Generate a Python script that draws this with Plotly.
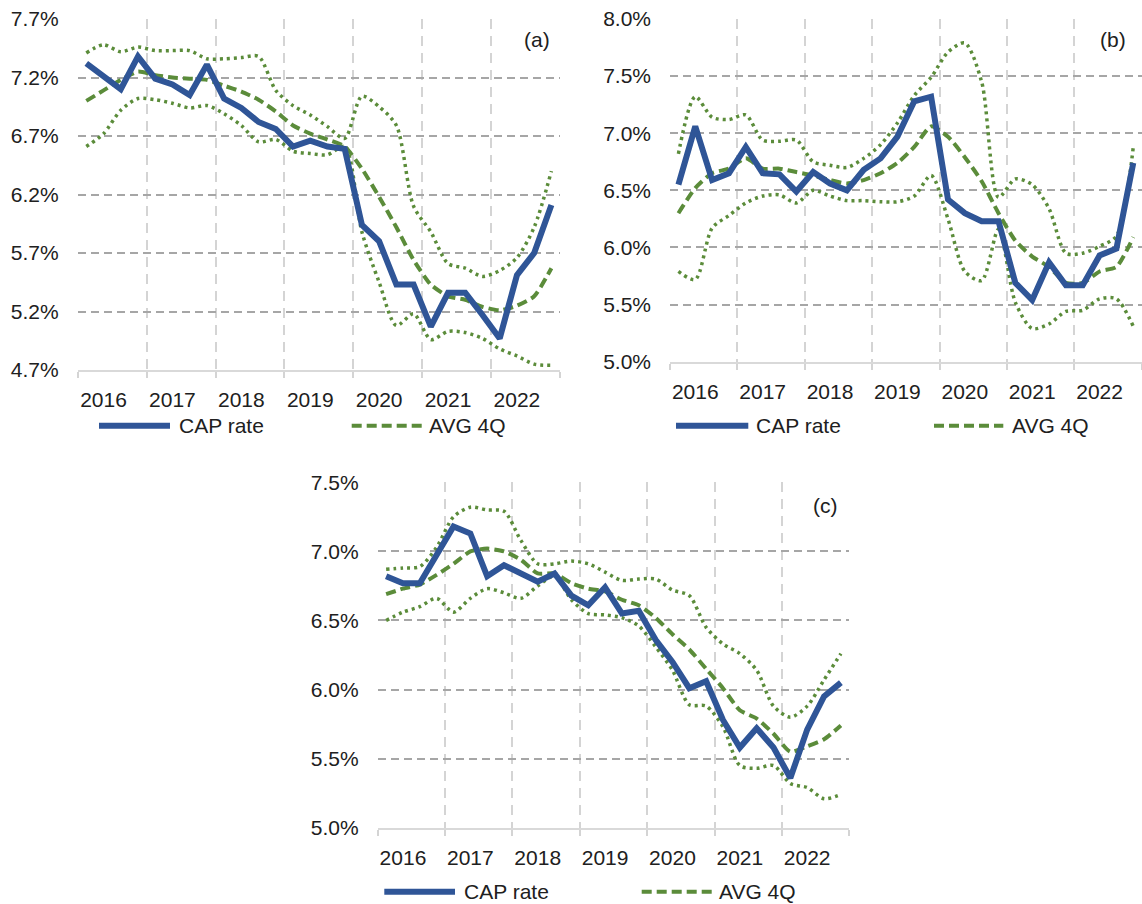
import plotly.graph_objects as go

W, H = 1142, 904

# Quarterly observations 2016Q1 .. 2022Q4 (28 quarters)
quarters = list(range(28))
years = ["2016", "2017", "2018", "2019", "2020", "2021", "2022"]

# Panel (a)
cap_a = [7.32, 7.21, 7.10, 7.38, 7.19, 7.14, 7.05, 7.31, 7.02, 6.94, 6.82, 6.76, 6.61, 6.66,
         6.61, 6.59, 5.94, 5.80, 5.43, 5.43, 5.07, 5.36, 5.36, 5.17, 4.97, 5.51, 5.70, 6.11]
avg_a = [7.00, 7.09, 7.18, 7.25, 7.22, 7.20, 7.19, 7.18, 7.13, 7.08, 7.01, 6.91, 6.79, 6.72,
         6.67, 6.61, 6.42, 6.18, 5.92, 5.64, 5.43, 5.33, 5.30, 5.24, 5.21, 5.25, 5.33, 5.57]
upper_a = [7.41, 7.48, 7.42, 7.46, 7.43, 7.43, 7.43, 7.36, 7.36, 7.37, 7.38, 7.09, 6.96, 6.88,
           6.78, 6.68, 7.04, 6.95, 6.79, 6.10, 5.88, 5.61, 5.57, 5.50, 5.55, 5.66, 5.92, 6.40]
lower_a = [6.61, 6.72, 6.92, 7.02, 7.01, 6.98, 6.94, 6.96, 6.89, 6.79, 6.65, 6.67, 6.57, 6.55,
           6.54, 6.61, 5.88, 5.45, 5.08, 5.18, 4.96, 5.03, 5.02, 4.97, 4.88, 4.82, 4.75, 4.74]

# Panel (b)
cap_b = [6.55, 7.06, 6.59, 6.65, 6.88, 6.65, 6.64, 6.49, 6.66, 6.56, 6.50, 6.68, 6.78, 6.97,
         7.28, 7.32, 6.42, 6.30, 6.23, 6.23, 5.69, 5.54, 5.87, 5.67, 5.67, 5.93, 5.99, 6.74]
avg_b = [6.30, 6.52, 6.65, 6.69, 6.78, 6.69, 6.69, 6.66, 6.63, 6.59, 6.56, 6.59, 6.65, 6.74,
         6.88, 7.06, 6.97, 6.79, 6.58, 6.30, 6.06, 5.92, 5.83, 5.69, 5.69, 5.79, 5.83, 6.09]
upper_b = [6.82, 7.32, 7.14, 7.12, 7.16, 6.94, 6.93, 6.94, 6.75, 6.72, 6.70, 6.78, 6.90, 7.09,
           7.33, 7.49, 7.71, 7.79, 7.45, 6.44, 6.60, 6.55, 6.34, 5.95, 5.95, 6.01, 6.10, 6.88]
lower_b = [5.79, 5.72, 6.17, 6.28, 6.39, 6.45, 6.46, 6.39, 6.50, 6.45, 6.41, 6.41, 6.40, 6.40,
           6.45, 6.63, 6.25, 5.79, 5.71, 6.16, 5.52, 5.29, 5.33, 5.44, 5.45, 5.55, 5.55, 5.31]

# Panel (c)
cap_c = [6.82, 6.77, 6.77, 6.97, 7.18, 7.13, 6.82, 6.90, 6.84, 6.78, 6.84, 6.68, 6.61, 6.74,
         6.55, 6.57, 6.36, 6.20, 6.01, 6.06, 5.78, 5.58, 5.72, 5.58, 5.36, 5.71, 5.95, 6.05]
avg_c = [6.69, 6.73, 6.76, 6.83, 6.91, 7.00, 7.02, 7.00, 6.94, 6.84, 6.84, 6.77, 6.73, 6.71,
         6.65, 6.61, 6.52, 6.40, 6.29, 6.15, 6.01, 5.85, 5.79, 5.68, 5.55, 5.59, 5.64, 5.74]
upper_c = [6.87, 6.88, 6.89, 7.03, 7.25, 7.32, 7.30, 7.29, 7.08, 6.91, 6.91, 6.93, 6.91, 6.85,
           6.79, 6.80, 6.80, 6.72, 6.68, 6.45, 6.33, 6.26, 6.14, 5.88, 5.80, 5.88, 6.07, 6.26]
lower_c = [6.50, 6.56, 6.60, 6.66, 6.56, 6.66, 6.73, 6.70, 6.66, 6.75, 6.82, 6.65, 6.55, 6.54,
           6.52, 6.46, 6.31, 6.14, 5.89, 5.88, 5.73, 5.45, 5.43, 5.45, 5.32, 5.29, 5.21, 5.24]

# y-axis ranges (percent)
yrange_a = [4.7, 7.7]
yrange_b = [5.0, 8.0]
yrange_c = [5.0, 7.5]

BLUE = "#2f5597"
GREEN = "#5b8c3a"
FONT = "Liberation Sans, Arial, sans-serif"
TXT = "#202020"
FS = 21

def px(x):
    return x / W

def py(y):
    return 1 - y / H

# plot-area boxes in pixels: (left, right, top, bottom)
panels = [
    dict(box=(77.7, 560.0, 19.0, 370.0), yr=yrange_a,
         data=(cap_a, avg_a, upper_a, lower_a), tag="(a)", tag_xy=(552, 40),
         legend_y=425.7, leg=(99, 170, 177, 351.7, 421.7, 427)),
    dict(box=(670.0, 1141.7, 19.0, 361.7), yr=yrange_b,
         data=(cap_b, avg_b, upper_b, lower_b), tag="(b)", tag_xy=(1128, 40),
         legend_y=425.7, leg=(676, 748.3, 754, 934, 1003.3, 1010)),
    dict(box=(377.7, 849.3, 482.3, 827.7), yr=yrange_c,
         data=(cap_c, avg_c, upper_c, lower_c), tag="(c)", tag_xy=(840, 505),
         legend_y=891.7, leg=(384.3, 455, 461.7, 641.7, 711.7, 716.7)),
]

fig = go.Figure()
shapes = []
annotations = []

for k, p in enumerate(panels):
    sfx = "" if k == 0 else str(k + 1)
    xa, ya = "x" + sfx, "y" + sfx
    cap, avg, up, lo = p["data"]
    for ys in (up, lo):
        fig.add_trace(go.Scatter(
            x=quarters, y=ys, xaxis=xa, yaxis=ya, mode="lines", showlegend=False,
            line=dict(color=GREEN, width=3.5, dash="3px,4px", shape="spline", smoothing=0.8),
            hoverinfo="skip"))
    fig.add_trace(go.Scatter(
        x=quarters, y=avg, xaxis=xa, yaxis=ya, mode="lines", showlegend=False, name="AVG 4Q",
        line=dict(color=GREEN, width=4, dash="10px,5px", shape="spline", smoothing=0.6)))
    fig.add_trace(go.Scatter(
        x=quarters, y=cap, xaxis=xa, yaxis=ya, mode="lines", showlegend=False, name="CAP rate",
        line=dict(color=BLUE, width=6)))

    l, r, t, b = p["box"]
    fig.layout["xaxis" + sfx] = dict(
        domain=[px(l), px(r)], anchor=ya, range=[-0.5, 27.5], automargin=False,
        tickmode="array", tickvals=[4 * j + 1 for j in range(7)], ticktext=years,
        showgrid=False, ticks="", zeroline=False,
        showline=True, linecolor="#d9d9d9", linewidth=2,
        ticklabelstandoff=10,
        tickfont=dict(family=FONT, size=FS, color=TXT),
        minor=dict(tickmode="array", tickvals=[4 * j - 0.5 for j in range(8)],
                   showgrid=True, gridcolor="#d4d4d4", griddash="10px,7px", gridwidth=2,
                   ticks="outside", ticklen=6, tickcolor="#d4d4d4", tickwidth=2),
    )
    y0, y1 = p["yr"]
    fig.layout["yaxis" + sfx] = dict(
        domain=[py(b), py(t)], anchor=xa, range=[y0, y1], automargin=False,
        tick0=y0, dtick=0.5, tickformat=".1f", ticksuffix="%",
        showgrid=True, gridcolor="#a6a6a6", griddash="8px,5px", gridwidth=1.6,
        zeroline=False, showline=False, ticks="", ticklabelstandoff=18,
        tickfont=dict(family=FONT, size=FS, color=TXT),
    )

    tx, ty = p["tag_xy"]
    annotations.append(dict(text=p["tag"], x=px(tx), y=py(ty), xref="paper", yref="paper",
                            xanchor="right", yanchor="middle", showarrow=False,
                            font=dict(family=FONT, size=FS, color=TXT)))

    # legend row under each panel
    c0, c1, ct, g0, g1, gt = p["leg"]
    ly = py(p["legend_y"])
    shapes.append(dict(type="line", xref="paper", yref="paper", x0=px(c0), x1=px(c1),
                       y0=ly, y1=ly, line=dict(color=BLUE, width=6)))
    shapes.append(dict(type="line", xref="paper", yref="paper", x0=px(g0), x1=px(g1),
                       y0=ly, y1=ly, line=dict(color=GREEN, width=4, dash="10px,5px")))
    annotations.append(dict(text="CAP rate", x=px(ct), y=ly, xref="paper", yref="paper",
                            xanchor="left", yanchor="middle", showarrow=False,
                            font=dict(family=FONT, size=FS, color=TXT)))
    annotations.append(dict(text="AVG 4Q", x=px(gt), y=ly, xref="paper", yref="paper",
                            xanchor="left", yanchor="middle", showarrow=False,
                            font=dict(family=FONT, size=FS, color=TXT)))

fig.update_layout(
    width=W, height=H, margin=dict(l=0, r=0, t=0, b=0, autoexpand=False),
    paper_bgcolor="white", plot_bgcolor="white",
    shapes=shapes, annotations=annotations, showlegend=False,
)

fig.write_html("out.html")
